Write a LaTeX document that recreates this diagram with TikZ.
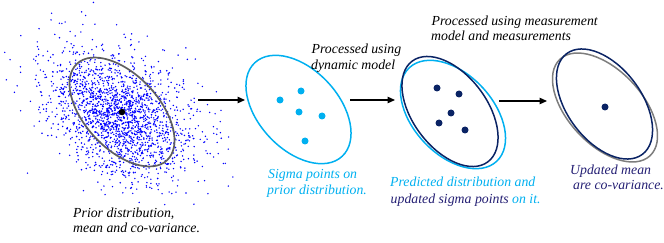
\documentclass[tikz,border=0pt]{standalone}
\usepackage{fontspec}
\setmainfont{Liberation Serif}
\usetikzlibrary{arrows.meta}
\definecolor{skyc}{RGB}{0,176,240}
\definecolor{navyc}{RGB}{10,35,100}
\definecolor{navyt}{RGB}{35,30,115}
\definecolor{grayc}{RGB}{95,95,95}
\definecolor{grayl}{RGB}{125,125,125}
\definecolor{cloudc}{RGB}{0,0,255}
\tikzset{
  lbl/.style={anchor=base west, inner sep=0pt, font=\fontsize{13.8}{16}\selectfont\itshape},
  flow/.style={line width=1.2pt, -{Triangle[length=7.5pt,width=6.5pt]}},
  sdot/.style={fill=skyc, circle, inner sep=0pt, minimum size=7pt},
  ndot/.style={fill=navyc, circle, inner sep=0pt, minimum size=7pt},
  mdot/.style={fill=black, circle, inner sep=0pt, minimum size=6.5pt},
  ell/.style={line width=1.5pt},
}
\begin{document}
\begin{tikzpicture}[x=1pt,y=1pt]
\useasboundingbox (0,0) rectangle (664,-243);
% ---- scatter cloud
\pgfmathsetseed{4711}
\begin{scope}
\clip (0,0) rectangle (235,-206);
\foreach \i in {1,...,2000}{
  \pgfmathsetmacro\rr{sqrt(-2*ln(max(rnd,0.0002)))}
  \pgfmathsetmacro\tt{360*rnd}
  \pgfmathsetmacro\uu{\rr*cos(\tt)}
  \pgfmathsetmacro\vv{\rr*sin(\tt)}
  \pgfmathsetmacro\px{120+34.4*\uu+15.5*\vv}
  \pgfmathsetmacro\py{-115-24.1*\uu+22.1*\vv}
  \fill[cloudc] (\px,\py) circle (0.8pt);
}
\end{scope}
% ---- stage 1
\draw[grayc, line width=1.7pt, rotate around={-47:(122,-112)}] (122,-112) ellipse [x radius=66, y radius=37];
\node[mdot] (m1) at (122,-112) {};
\node[lbl] (t1a) at (73,-217.7) {Prior distribution,};
\node[lbl] (t1b) at (73,-232.7) {mean and co-variance.};
% ---- stage 2
\draw[skyc, ell, rotate around={-47:(298.5,-109.5)}] (298.5,-109.5) ellipse [x radius=64, y radius=40];
\node[sdot] (s1) at (301,-91) {};
\node[sdot] (s2) at (280,-100) {};
\node[sdot] (s3) at (299,-112) {};
\node[sdot] (s4) at (322,-116) {};
\node[sdot] (s5) at (305,-141) {};
\node[lbl, text=skyc] (t2a) at (268,-178.3) {Sigma points on};
\node[lbl, text=skyc] (t2b) at (267,-194.3) {prior distribution.};
% ---- stage 3
\draw[skyc, ell, rotate around={-47:(453,-114.5)}] (453,-114.5) ellipse [x radius=64, y radius=40];
\draw[navyc, ell, rotate around={-53:(450,-111.5)}] (450,-111.5) ellipse [x radius=63, y radius=37];
\node[ndot] (n1) at (437,-88) {};
\node[ndot] (n2) at (459,-94) {};
\node[ndot] (n3) at (451,-113) {};
\node[ndot] (n4) at (439,-123) {};
\node[ndot] (n5) at (465,-130) {};
\node[lbl, text=skyc] (t3a) at (390,-186.7) {Predicted distribution and};
\node[lbl, text=navyt] (t3b) at (390.5,-203.3) {updated sigma points \textcolor{skyc}{on it.}};
\node[lbl] (p1a) at (311.5,-54) {Processed using};
\node[lbl] (p1b) at (311,-70) {dynamic model};
% ---- stage 4
\draw[grayl, ell, rotate around={-47:(605,-107.5)}] (605,-107.5) ellipse [x radius=66, y radius=37];
\draw[navyc, ell, rotate around={-53:(604.5,-104)}] (604.5,-104) ellipse [x radius=63, y radius=37];
\node[ndot] (m4) at (605,-107) {};
\node[lbl, text=navyt] (t4a) at (570,-174.3) {Updated mean};
\node[lbl, text=navyt] (t4b) at (573,-189.3) {are co-variance.};
\node[lbl] (p2a) at (431.5,-25.7) {Processed using measurement};
\node[lbl] (p2b) at (431,-41) {model and measurements};
% ---- arrows
\coordinate (a1s) at (198,-100);
\coordinate (a1e) at (245,-100);
\coordinate (a2s) at (350,-100);
\coordinate (a2e) at (395,-100);
\coordinate (a3s) at (499,-101);
\coordinate (a3e) at (547,-101);
\draw[flow] (a1s) -- (a1e);
\draw[flow] (a2s) -- (a2e);
\draw[flow] (a3s) -- (a3e);
\end{tikzpicture}
\end{document}
